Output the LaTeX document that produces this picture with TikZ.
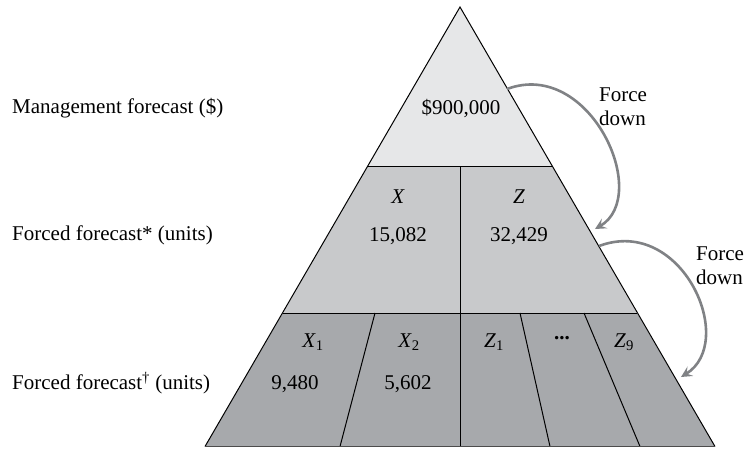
\documentclass[tikz,border=0pt]{standalone}
\usepackage{fontspec}
\setmainfont{Liberation Serif}
\usetikzlibrary{arrows.meta}
\definecolor{topfill}{HTML}{E6E7E8}
\definecolor{midfill}{HTML}{C8C9CB}
\definecolor{botfill}{HTML}{A7A9AC}
\definecolor{arrowgray}{HTML}{808285}
\newcommand\sublab[2]{\textit{#1}\textsubscript{#2}}
\begin{document}
\begin{tikzpicture}[x=1pt,y=-1pt,
  txt/.style={inner sep=0pt, font=\fontsize{21}{24}\selectfont},
  lefttxt/.style={txt, anchor=west},
  edge/.style={draw=black, line width=1pt, line join=miter},
  divider/.style={draw=black, line width=1pt},
  forcearrow/.style={draw=arrowgray, line width=2.6pt,
    -{Stealth[length=11pt,width=11pt,inset=4.5pt]}}]
\useasboundingbox (0,0) rectangle (745,448);
% triangle geometry
\coordinate (A) at (460,7);
\coordinate (L1) at (368,166);
\coordinate (R1) at (552,166);
\coordinate (L2) at (283,313);
\coordinate (R2) at (637,313);
\coordinate (L3) at (205,446.5);
\coordinate (R3) at (715,446.5);
\coordinate (M1) at (460,166);
\coordinate (M2) at (460,313);
\coordinate (M3) at (460,446.5);
\coordinate (D1t) at (375,313);
\coordinate (D1b) at (340,446.5);
\coordinate (D3t) at (520,313);
\coordinate (D3b) at (550,446.5);
\coordinate (D4t) at (584,313);
\coordinate (D4b) at (640,446.5);
% fills
\fill[topfill] (A) -- (R1) -- (L1) -- cycle;
\fill[midfill] (L1) -- (R1) -- (R2) -- (L2) -- cycle;
\fill[botfill] (L2) -- (R2) -- (R3) -- (L3) -- cycle;
% lines
\draw[divider] (L1) -- (R1);
\draw[divider] (L2) -- (R2);
\draw[divider] (M1) -- (M3);
\draw[divider] (D1t) -- (D1b);
\draw[divider] (D3t) -- (D3b);
\draw[divider] (D4t) -- (D4b);
\draw[edge] (L3) -- (A) -- (R3);
\draw[draw=black!70, line width=1pt] (L3) -- (R3);
% left labels
\node[lefttxt] (mgmt) at (12,108) {Management forecast (\$)};
\node[lefttxt] (ff1) at (12,235) {Forced forecast* (units)};
\node[lefttxt] (ff2) at (12,383) {Forced forecast\textsuperscript{†} (units)};
% contents
\node[txt] (topval) at (461,109) {\$900,000};
\node[txt] (xlab) at (398,197) {\textit{X}};
\node[txt] (zlab) at (519,197) {\textit{Z}};
\node[txt] (xval) at (398,236) {15,082};
\node[txt] (zval) at (519,236) {32,429};
\node[txt] (x1lab) at (313,342) {\sublab{X}{1}};
\node[txt] (x2lab) at (409,342) {\sublab{X}{2}};
\node[txt] (z1lab) at (494,342) {\sublab{Z}{1}};
\node[txt] (dots) at (562,338) {\textbf{...}};
\node[txt] (z9lab) at (624,342) {\sublab{Z}{9}};
\node[txt] (x1val) at (295,384) {9,480};
\node[txt] (x2val) at (408,384) {5,602};
% force down labels
\node[txt, anchor=west, align=left] (fd1) at (599,107) {Force\\down};
\node[txt, anchor=west, align=left] (fd2) at (696,266) {Force\\down};
% arrows
\coordinate (a1s) at (507,89);
\coordinate (a1e) at (595,229);
\coordinate (a2s) at (599,246);
\coordinate (a2e) at (681,377);
\draw[forcearrow] (a1s) .. controls (590,58) and (652,196) .. (a1e);
\draw[forcearrow] (a2s) .. controls (682,215) and (738,342) .. (a2e);
\end{tikzpicture}
\end{document}
